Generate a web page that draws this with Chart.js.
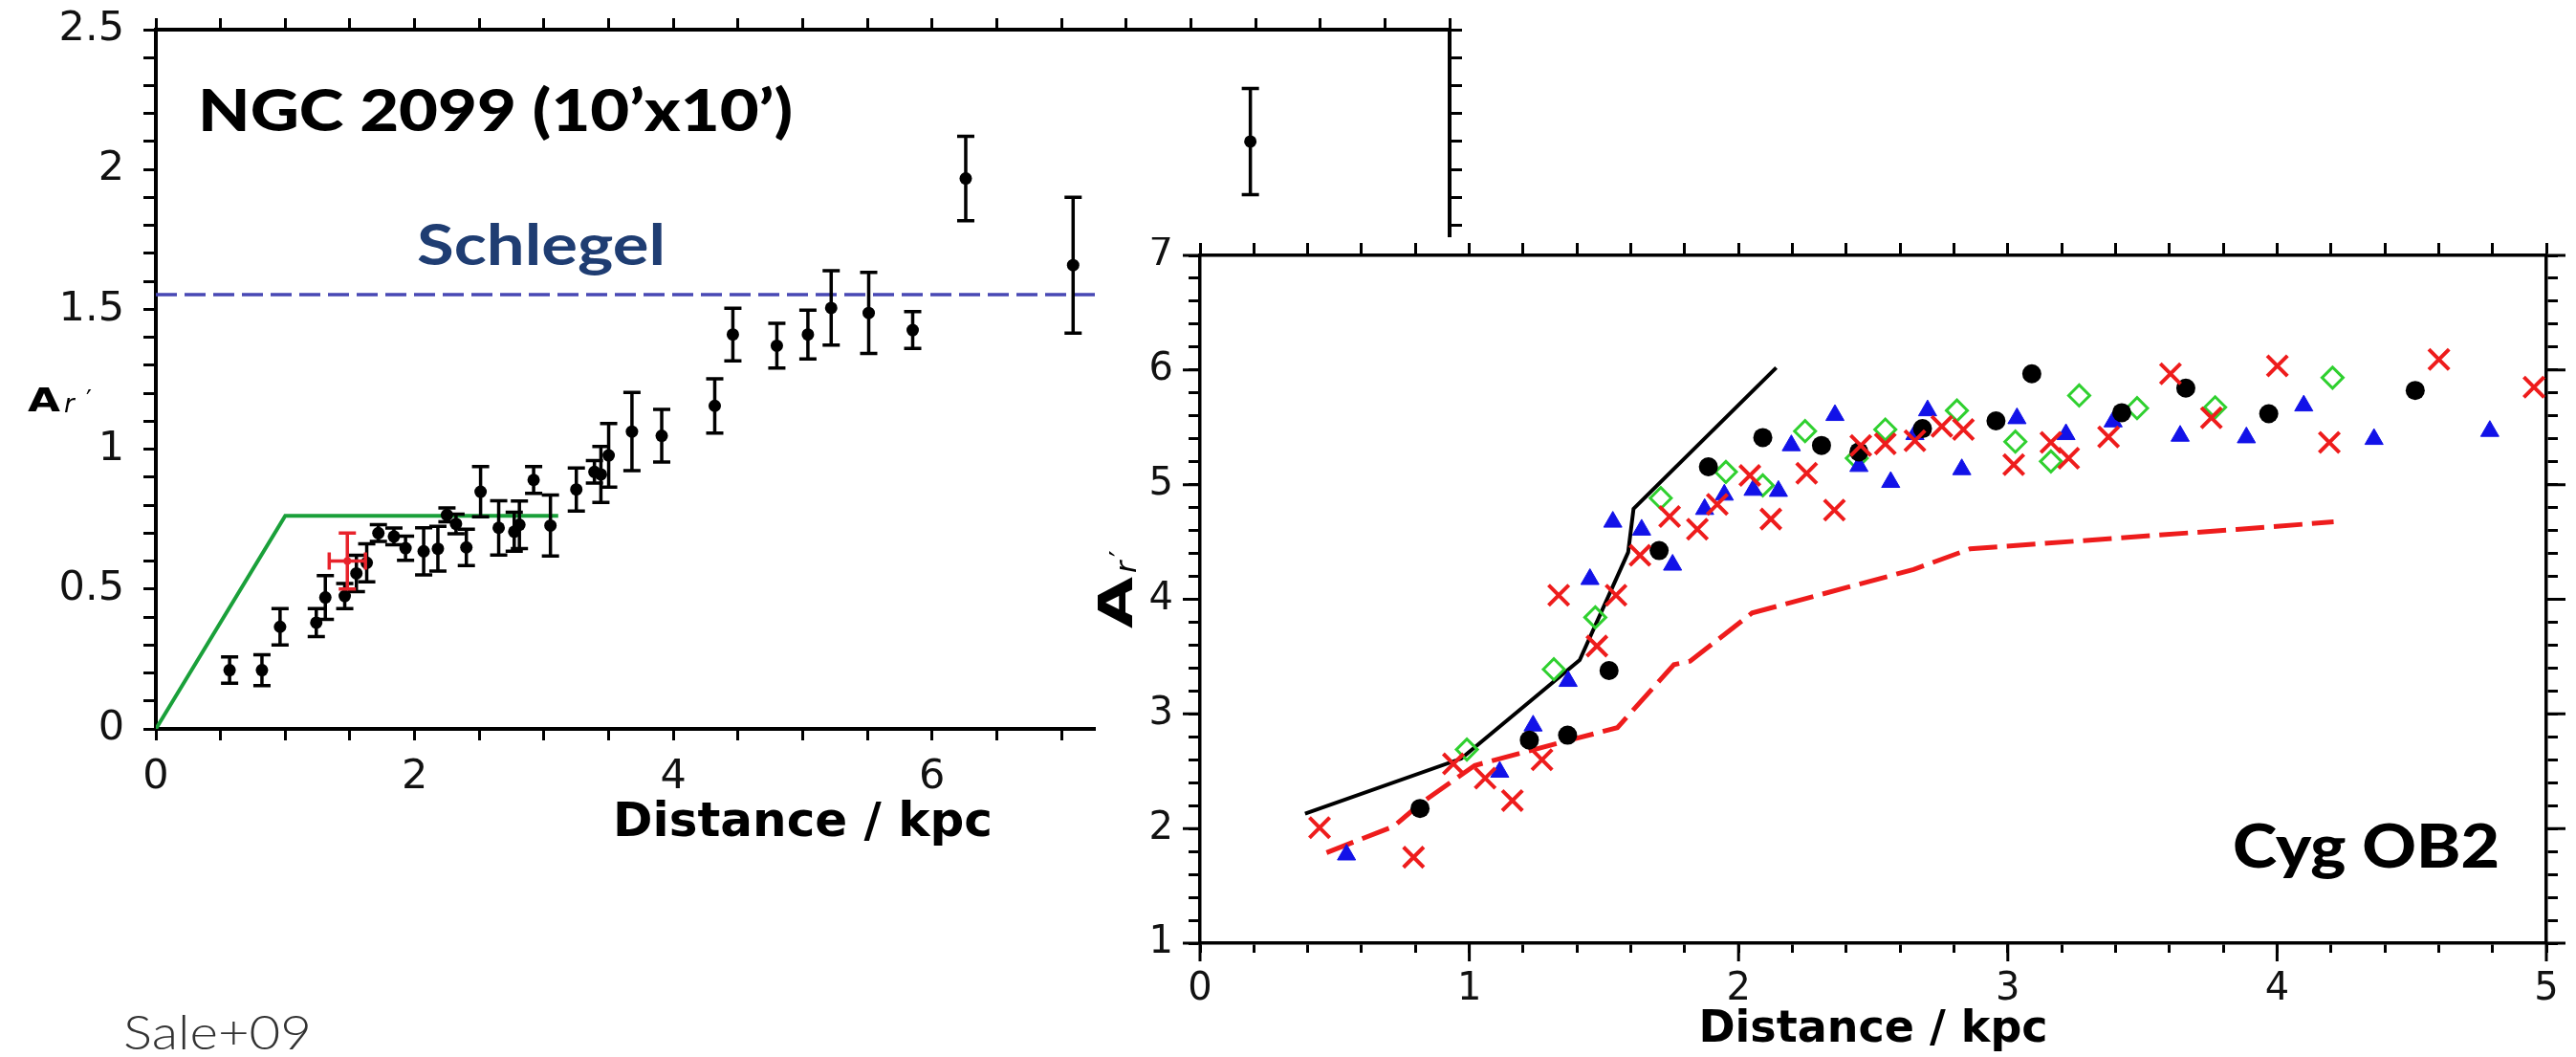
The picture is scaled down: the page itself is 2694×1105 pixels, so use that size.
<!DOCTYPE html>
<html><head><meta charset="utf-8">
<script src="https://cdn.jsdelivr.net/npm/chart.js@4.4.1/dist/chart.umd.min.js"></script>
<style>
html,body{margin:0;padding:0;background:#fff;}
#wrap{position:relative;width:2694px;height:1105px;overflow:hidden;background:#fff;}
#cl{position:absolute;left:0;top:0;}
#cr{position:absolute;left:1146px;top:248px;background:#fff;}
</style></head><body>
<div id="wrap">
<canvas id="cl" width="1560" height="1105"></canvas>
<canvas id="cr" width="1548" height="857"></canvas>
</div>
<script>
// ---------- NGC 2099 panel (left) ----------
const ngcDist = [0.57, 0.82, 0.96, 1.24, 1.31, 1.46, 1.55, 1.63, 1.72, 1.84, 1.93, 2.07, 2.18, 2.25, 2.32, 2.40, 2.51, 2.65, 2.77, 2.81, 2.92, 3.05, 3.25, 3.39, 3.44, 3.50, 3.68, 3.91, 4.32, 4.46, 4.80, 5.04, 5.22, 5.51, 5.85, 6.26, 7.09, 8.46];
const ngcAr   = [0.21, 0.21, 0.365, 0.38, 0.47, 0.475, 0.556, 0.594, 0.70, 0.688, 0.646, 0.635, 0.644, 0.765, 0.733, 0.649, 0.848, 0.719, 0.705, 0.73, 0.89, 0.727, 0.856, 0.919, 0.91, 0.978, 1.063, 1.048, 1.155, 1.41, 1.37, 1.41, 1.505, 1.487, 1.426, 1.968, 1.658, 2.10];
const ngcErr  = [0.047, 0.055, 0.065, 0.05, 0.078, 0.045, 0.065, 0.068, 0.03, 0.03, 0.043, 0.084, 0.08, 0.025, 0.035, 0.065, 0.09, 0.097, 0.07, 0.085, 0.048, 0.109, 0.077, 0.04, 0.1, 0.114, 0.14, 0.094, 0.097, 0.094, 0.08, 0.087, 0.133, 0.145, 0.066, 0.151, 0.243, 0.19];
const redDist = [1.48];
const redAr   = [0.60];
const redErrX = [0.14];
const redErrY = [0.10];
const greenDist = [0, 1.0, 3.11];
const greenAr   = [0, 0.762, 0.762];
const schlegelDist = [0, 10];
const schlegelAr   = [1.553, 1.553];
const leftXTickLabels = [0, 2, 4, 6];
const leftYTickLabels = [0, 0.5, 1, 1.5, 2, 2.5];

// ---------- Cyg OB2 panel (right) ----------
const cygBlackDist = [0.817, 1.223, 1.365, 1.519, 1.705, 1.888, 2.09, 2.308, 2.447, 2.683, 2.956, 3.089, 3.423, 3.661, 3.969, 4.513];
const cygBlackAr   = [2.175, 2.772, 2.814, 3.378, 4.425, 5.156, 5.411, 5.342, 5.286, 5.489, 5.556, 5.967, 5.628, 5.842, 5.619, 5.822];
const cygBlueDist = [0.544, 1.113, 1.237, 1.367, 1.448, 1.533, 1.64, 1.755, 1.874, 1.947, 2.054, 2.148, 2.196, 2.358, 2.447, 2.565, 2.655, 2.702, 2.829, 3.034, 3.216, 3.391, 3.64, 3.886, 4.099, 4.36, 4.79];
const cygBlueAr   = [1.772, 2.494, 2.897, 3.286, 4.175, 4.675, 4.606, 4.30, 4.786, 4.911, 4.953, 4.944, 5.342, 5.606, 5.161, 5.022, 5.439, 5.647, 5.133, 5.578, 5.439, 5.55, 5.425, 5.411, 5.689, 5.397, 5.467];
const cygGreenDist = [0.991, 1.314, 1.468, 1.711, 1.953, 2.09, 2.247, 2.439, 2.545, 2.811, 3.028, 3.16, 3.265, 3.48, 3.77, 4.206];
const cygGreenAr   = [2.689, 3.389, 3.842, 4.883, 5.111, 4.994, 5.467, 5.231, 5.481, 5.647, 5.375, 5.203, 5.778, 5.667, 5.675, 5.933];
const cygRedDist = [0.444, 0.793, 0.941, 1.059, 1.160, 1.27, 1.332, 1.474, 1.545, 1.634, 1.744, 1.847, 1.921, 2.042, 2.12, 2.253, 2.356, 2.454, 2.545, 2.655, 2.755, 2.835, 3.022, 3.16, 3.226, 3.374, 3.604, 3.756, 4.001, 4.194, 4.601, 4.954];
const cygRedAr   = [2.008, 1.75, 2.564, 2.439, 2.244, 2.6, 4.036, 3.592, 4.036, 4.383, 4.722, 4.611, 4.828, 5.08, 4.70, 5.10, 4.778, 5.342, 5.356, 5.383, 5.508, 5.481, 5.175, 5.369, 5.231, 5.417, 5.967, 5.583, 6.036, 5.369, 6.092, 5.85];
const cygSolidDist = [0.39, 0.97, 1.41, 1.59, 1.61, 2.14];
const cygSolidAr   = [2.13, 2.61, 3.47, 4.41, 4.79, 6.02];
const cygDashDist = [0.47, 0.72, 0.82, 1.02, 1.37, 1.55, 1.76, 1.82, 2.05, 2.65, 2.86, 3.85, 4.21];
const cygDashAr   = [1.79, 2.02, 2.22, 2.55, 2.77, 2.88, 3.43, 3.46, 3.88, 4.26, 4.44, 4.61, 4.675];
const rightXTickLabels = [0, 1, 2, 3, 4, 5];
const rightYTickLabels = [1, 2, 3, 4, 5, 6, 7];

// ---------- helpers ----------
const pts = (xs, ys) => xs.map((x, i) => ({x: x, y: ys[i]}));
const hasLabel = (arr, v) => arr.some(l => Math.abs(l - v) < 1e-6);
const fmt = v => String(Math.round(v * 100) / 100);

function scaledText(ctx, text, x, y, font, color, targetW) {
  ctx.save();
  ctx.font = font; ctx.fillStyle = color; ctx.textAlign = 'left'; ctx.textBaseline = 'alphabetic';
  const w = ctx.measureText(text).width;
  ctx.translate(x, y);
  if (targetW) ctx.scale(targetW / w, 1);
  ctx.fillText(text, 0, 0);
  ctx.restore();
}

const errorBars = {
  id: 'errorBars',
  afterDatasetsDraw(chart) {
    const ctx = chart.ctx, xs = chart.scales.x, ys = chart.scales.y;
    chart.data.datasets.forEach(ds => {
      if (!ds.errY) return;
      ctx.save();
      ctx.strokeStyle = ds.barColor; ctx.lineWidth = ds.barWidth; ctx.lineCap = 'butt';
      const c = ds.capHalf;
      ds.data.forEach((p, j) => {
        const px = xs.getPixelForValue(p.x), py = ys.getPixelForValue(p.y);
        const t = ys.getPixelForValue(p.y + ds.errY[j]), b = ys.getPixelForValue(p.y - ds.errY[j]);
        ctx.beginPath();
        ctx.moveTo(px, t); ctx.lineTo(px, b);
        ctx.moveTo(px - c, t); ctx.lineTo(px + c, t);
        ctx.moveTo(px - c, b); ctx.lineTo(px + c, b);
        if (ds.errX) {
          const l = xs.getPixelForValue(p.x - ds.errX[j]), r = xs.getPixelForValue(p.x + ds.errX[j]);
          ctx.moveTo(l, py); ctx.lineTo(r, py);
          ctx.moveTo(l, py - c); ctx.lineTo(l, py + c);
          ctx.moveTo(r, py - c); ctx.lineTo(r, py + c);
        }
        ctx.stroke();
      });
      ctx.restore();
    });
  }
};

function axisCommon(pos, min, max, step, labels, font, pad, tl, bw, size) {
  const horiz = (pos === 'top' || pos === 'bottom');
  return {
    type: 'linear', position: pos, min: min, max: max,
    ticks: {stepSize: step, autoSkip: false, maxRotation: 0, minRotation: 0, padding: pad, color: '#111', font: font,
            callback: v => (labels && hasLabel(labels, v)) ? fmt(v) : ''},
    grid: {drawOnChartArea: false, drawTicks: true, tickLength: tl, tickWidth: 3, tickColor: '#000'},
    border: {display: true, color: '#000', width: bw},
    afterFit: s => {
      if (horiz) s.height = size; else s.width = size;
      s.paddingTop = 0; s.paddingBottom = 0; s.paddingLeft = 0; s.paddingRight = 0;
    }
  };
}

// ---------- left chart ----------
const leftText = {
  id: 'leftText',
  afterDraw(chart) {
    const ctx = chart.ctx;
    scaledText(ctx, 'NGC 2099 (10\u2019x10\u2019)', 207, 137, '900 60px Lato', '#000', 622);
    scaledText(ctx, 'Schlegel', 436, 277, 'bold 60px Lato', '#1f3d72', 260);
    scaledText(ctx, 'A', 29, 430, 'bold 34px "DejaVu Sans"', '#000', 34);
    scaledText(ctx, 'r', 67, 431, 'italic 26px "DejaVu Sans"', '#000', null);
    scaledText(ctx, '\u2032', 90, 427, '26px "DejaVu Sans"', '#000', null);
    scaledText(ctx, 'Sale+09', 129, 1097, '300 50px Lato', '#333', 197);
  }
};

const tickFontL = {family: 'DejaVu Sans', size: 43};
new Chart(document.getElementById('cl'), {
  type: 'scatter',
  data: {datasets: [
    {type: 'scatter', label: 'NGC 2099', data: pts(ngcDist, ngcAr), errY: ngcErr, barColor: '#000', barWidth: 3.5, capHalf: 9,
     pointRadius: 6.5, pointBackgroundColor: '#000', pointBorderColor: '#000', pointBorderWidth: 0, order: 1},
    {type: 'scatter', label: 'single', data: pts(redDist, redAr), errY: redErrY, errX: redErrX, barColor: '#e8232b', barWidth: 3.5, capHalf: 9,
     pointRadius: 4, pointBackgroundColor: '#e8232b', pointBorderWidth: 0, order: 0},
    {type: 'line', label: 'model', data: pts(greenDist, greenAr), borderColor: '#1aa03a', borderWidth: 4, pointRadius: 0, fill: false, tension: 0, order: 3},
    {type: 'line', label: 'Schlegel', data: pts(schlegelDist, schlegelAr), borderColor: '#4848b4', borderWidth: 3.5, borderDash: [22, 8], pointRadius: 0, fill: false, order: 3}
  ]},
  options: {
    responsive: false, animation: false, devicePixelRatio: 1,
    layout: {padding: 0},
    plugins: {legend: {display: false}, tooltip: {enabled: false}},
    scales: {
      x: Object.assign(axisCommon('bottom', 0, 10, 0.5, leftXTickLabels, tickFontL, 13, 12, 4, 343),
        {title: {display: true, text: 'Distance / kpc', color: '#000', font: {family: 'DejaVu Sans', weight: 'bold', size: 50}, padding: {top: 0, bottom: 214}}}),
      xTop: axisCommon('top', 0, 10, 0.5, null, tickFontL, 0, 12, 4, 31),
      y: axisCommon('left', 0, 2.5, 0.1, leftYTickLabels, tickFontL, 20, 13, 4, 163),
      yR: axisCommon('right', 0, 2.5, 0.1, null, tickFontL, 0, 13, 4, 44)
    }
  },
  plugins: [errorBars, leftText]
});

// ---------- right chart ----------
const majorTicks = {
  id: 'majorTicks',
  afterDraw(chart) {
    const ctx = chart.ctx, x = chart.scales.x, y = chart.scales.y, yR = chart.scales.yR;
    ctx.save(); ctx.strokeStyle = '#000'; ctx.lineWidth = 3;
    ctx.beginPath();
    rightXTickLabels.forEach(v => { const p = x.getPixelForValue(v); ctx.moveTo(p, x.top); ctx.lineTo(p, x.top + 19); });
    rightYTickLabels.forEach(v => {
      const p = y.getPixelForValue(v);
      ctx.moveTo(y.right - 18, p); ctx.lineTo(y.right, p);
      ctx.moveTo(yR.left, p); ctx.lineTo(yR.left + 20, p);
    });
    ctx.stroke(); ctx.restore();
    scaledText(ctx, 'Cyg OB2', 1189, 659, '900 63px Lato', '#000', 279);
    ctx.save();
    ctx.translate(38, 409); ctx.rotate(-Math.PI / 2);
    scaledText(ctx, 'A', 0, 0, 'bold 50px "DejaVu Sans"', '#000', 54);
    scaledText(ctx, 'r', 58, 4, 'italic 30px "DejaVu Sans"', '#000', null);
    scaledText(ctx, '\u2032', 75, -2, '30px "DejaVu Sans"', '#000', null);
    ctx.restore();
  }
};

const tickFontR = {family: 'DejaVu Sans', size: 40};
new Chart(document.getElementById('cr'), {
  type: 'scatter',
  data: {datasets: [
    {type: 'scatter', label: 'crosses', data: pts(cygRedDist, cygRedAr), pointStyle: 'crossRot', pointRadius: 15, pointBorderColor: '#ee1c1c', pointBorderWidth: 4, order: 1},
    {type: 'scatter', label: 'circles', data: pts(cygBlackDist, cygBlackAr), pointStyle: 'circle', pointRadius: 10, pointBackgroundColor: '#000', pointBorderColor: '#000', pointBorderWidth: 0, order: 2},
    {type: 'scatter', label: 'triangles', data: pts(cygBlueDist, cygBlueAr), pointStyle: 'triangle', pointRadius: 11, pointBackgroundColor: '#1212e8', pointBorderColor: '#1212e8', pointBorderWidth: 1, order: 3},
    {type: 'scatter', label: 'diamonds', data: pts(cygGreenDist, cygGreenAr), pointStyle: 'rectRot', pointRadius: 11, pointBackgroundColor: 'rgba(0,0,0,0)', pointBorderColor: '#2fd02f', pointBorderWidth: 3, order: 4},
    {type: 'line', label: 'solid', data: pts(cygSolidDist, cygSolidAr), borderColor: '#000', borderWidth: 4, pointRadius: 0, fill: false, tension: 0, order: 5},
    {type: 'line', label: 'dashed', data: pts(cygDashDist, cygDashAr), borderColor: '#ee1c1c', borderWidth: 5, borderDash: [30, 10], pointRadius: 0, fill: false, tension: 0, order: 5}
  ]},
  options: {
    responsive: false, animation: false, devicePixelRatio: 1,
    layout: {padding: 0},
    plugins: {legend: {display: false}, tooltip: {enabled: false}},
    scales: {
      x: Object.assign(axisCommon('bottom', 0, 5, 0.2, rightXTickLabels, tickFontR, 15, 10, 3.5, 119),
        {title: {display: true, text: 'Distance / kpc', color: '#000', font: {family: 'DejaVu Sans', weight: 'bold', size: 46}, padding: {top: 0, bottom: 0}}}),
      xTop: axisCommon('top', 0, 5, 0.2, null, tickFontR, 0, 13, 3.5, 18),
      y: axisCommon('left', 1, 7, 0.2, rightYTickLabels, tickFontR, 16, 12, 3.5, 109),
      yR: axisCommon('right', 1, 7, 0.2, null, tickFontR, 0, 12, 3.5, 31)
    }
  },
  plugins: [majorTicks]
});
</script>
</body></html>
